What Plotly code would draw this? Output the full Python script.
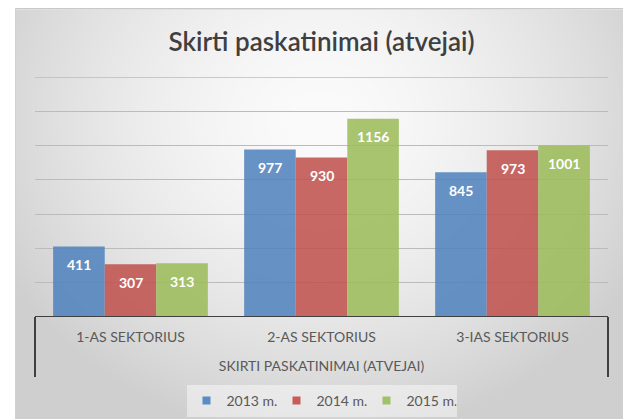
import base64, struct, zlib
import numpy as np
import plotly.graph_objects as go

# ---- data ----
categories = ["1-AS SEKTORIUS", "2-AS SEKTORIUS", "3-IAS SEKTORIUS"]
series_names = ["2013 m.", "2014 m.", "2015 m."]
values_2013 = [411, 977, 845]
values_2014 = [307, 930, 973]
values_2015 = [313, 1156, 1001]
y_max = 1400
y_step = 200
title_text = "Skirti paskatinimai (atvejai)"
axis_title = "SKIRTI PASKATINIMAI (ATVEJAI)"

series_values = [values_2013, values_2014, values_2015]
colors = ["rgba(79,129,189,0.86)", "rgba(192,80,77,0.86)", "rgba(155,187,89,0.86)"]
legend_colors = ["#5B8CC6", "#C75D5B", "#A0C266"]

W, H = 623, 419
ML, MR, MT, MB = 35, 15, 77, 102
PW, PH = W - ML - MR, H - MT - MB

# ---- background (radial gray gradient like the Excel chart area) ----
yy, xx = np.mgrid[0:H, 0:W]
d = np.sqrt(((xx - 320) / 360.0) ** 2 + ((yy - 120) / 320.0) ** 2)
v = 251 - 44 * np.clip(d, 0, 1) ** 1.6
v[:, :15] = 255
v[:8, :] = 255
v[8, 15:] = 200
v[9, 15:] = 225
v[8:, 15] = 210
arr = np.clip(v, 0, 255).astype(np.uint8)


def png_gray(a):
    h, w = a.shape
    raw = b"".join(b"\x00" + a[r].tobytes() for r in range(h))

    def chunk(t, dd):
        c = struct.pack(">I", len(dd)) + t + dd
        return c + struct.pack(">I", zlib.crc32(t + dd) & 0xFFFFFFFF)

    ihdr = struct.pack(">IIBBBBB", w, h, 8, 0, 0, 0, 0)
    return (b"\x89PNG\r\n\x1a\n" + chunk(b"IHDR", ihdr)
            + chunk(b"IDAT", zlib.compress(raw, 9)) + chunk(b"IEND", b""))


bg_uri = "data:image/png;base64," + base64.b64encode(png_gray(arr)).decode()

FONT = "Lato"
GRAY = "#595959"

fig = go.Figure()
for name, vals, col in zip(series_names, series_values, colors):
    fig.add_trace(go.Bar(x=categories, y=vals, name=name, marker=dict(color=col, line=dict(width=0)),
                         showlegend=False, hoverinfo="x+y+name"))
for name, col in zip(series_names, legend_colors):
    fig.add_trace(go.Scatter(x=[None], y=[None], mode="markers", name=name,
                             marker=dict(symbol="square", size=8, color=col)))

bargap = 0.19
bar_px = PW / len(categories) * (1 - bargap) / len(series_names)
annotations = []
for i, vals in enumerate(series_values):
    for c, val in zip(categories, vals):
        annotations.append(dict(x=c, y=val, xref="x", yref="y", text=str(val), showarrow=False,
                                xshift=(i - 1) * bar_px, yshift=-18, yanchor="middle",
                                font=dict(family=FONT, size=14, color="white", weight="bold")))

shapes = [
    dict(type="line", xref="paper", yref="y", x0=0, x1=1, y0=y_max, y1=y_max,
         line=dict(color="#BBBBBB", width=1.3), layer="below"),
    dict(type="line", xref="paper", yref="y", x0=0, x1=1, y0=0, y1=0,
         line=dict(color="#404040", width=2)),
    dict(type="line", xref="paper", yref="paper", x0=0, x1=0, y0=0, y1=-60 / PH,
         line=dict(color="#404040", width=2)),
    dict(type="line", xref="paper", yref="paper", x0=1, x1=1, y0=0, y1=-60 / PH,
         line=dict(color="#404040", width=2)),
]

fig.update_layout(
    width=W, height=H,
    margin=dict(l=ML, r=MR, t=MT, b=MB, pad=0, autoexpand=False),
    paper_bgcolor="white", plot_bgcolor="rgba(0,0,0,0)",
    barmode="group", bargap=bargap, bargroupgap=0,
    title=dict(text=title_text, x=0.5, xref="paper", xanchor="center",
               y=1 - 42 / H, yref="container", yanchor="middle",
               font=dict(family=FONT, size=26, color="#3F3F3F", weight=600)),
    xaxis=dict(type="category", showgrid=False, showline=False, zeroline=False, ticks="",
               tickfont=dict(family=FONT, size=14, color=GRAY), ticklabelstandoff=10,
               title=dict(text=axis_title, font=dict(family=FONT, size=14, color=GRAY), standoff=17)),
    yaxis=dict(range=[0, y_max], dtick=y_step, showticklabels=False, ticks="",
               showgrid=True, gridcolor="#BBBBBB", gridwidth=1.3, zeroline=False, showline=False),
    legend=dict(orientation="h", x=0.5, xanchor="center", y=(317 - 401) / PH, yanchor="middle",
                bgcolor="rgba(255,255,255,0.45)", font=dict(family=FONT, size=14, color=GRAY),
                itemwidth=30, traceorder="normal", entrywidth=45, entrywidthmode="pixels"),
    annotations=annotations,
    shapes=shapes,
    images=[dict(source=bg_uri, xref="paper", yref="paper", x=-ML / PW, y=1 + MT / PH,
                 sizex=W / PW, sizey=H / PH, xanchor="left", yanchor="top",
                 sizing="stretch", layer="below")],
    hovermode="closest",
)

fig.write_html("out.html", post_script="document.body.style.margin='0px';",
               config={"displayModeBar": False})
